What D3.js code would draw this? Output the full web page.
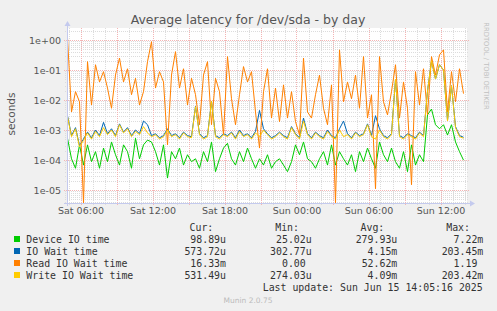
<!DOCTYPE html>
<html>
<head>
<meta charset="utf-8">
<script src="https://cdn.jsdelivr.net/npm/d3@7"></script>
<style>
  html, body { margin: 0; padding: 0; background: #F0F0F0; }
  svg { display: block; }
  text { font-family: "DejaVu Sans", sans-serif; }
  .mono { font-family: "DejaVu Sans Mono", monospace; white-space: pre; }
</style>
</head>
<body>
<svg id="chart" width="497" height="311"></svg>
<script>
// ---------- data (seconds), one sample every 20 minutes ----------
const seriesNames = ["Device IO time", "IO Wait time", "Read IO Wait time", "Write IO Wait time"];
const seriesColors = ["#00CC00", "#0066B3", "#FF8000", "#FFCC00"];
const startTime = new Date(2025, 5, 14, 4, 55, 0);
const stepMinutes = 20;

const deviceIO = [5.3e-4, 1.1e-4, 5.3e-5, 3.2e-4, 6.8e-5, 3.2e-4, 8.8e-5, 1.9e-4, 5.3e-5, 2.5e-4,
  8.8e-5, 4e-4, 1.5e-4, 6.8e-5, 3.2e-4, 1.9e-4, 5.3e-5, 5.3e-4, 1.1e-4, 3.2e-4,
  4.6e-4, 4e-4, 1.9e-4, 6.8e-5, 3.2e-4, 2.5e-5, 1.9e-4, 1.1e-4, 2.5e-4, 6.8e-5,
  1.5e-4, 8.8e-5, 1.1e-4, 5.3e-5, 1.9e-4, 8.8e-5, 4e-4, 4.1e-5, 1.1e-4, 2.5e-4,
  3.6e-4, 1.1e-4, 6.8e-5, 1.9e-4, 8.8e-5, 2.5e-4, 1.1e-4, 5.3e-5, 1.1e-4, 6.8e-5,
  1.5e-4, 5.3e-5, 8.8e-5, 1.1e-4, 6.8e-5, 4.1e-5, 8.8e-5, 3.2e-4, 1.5e-4, 4e-4,
  1.1e-4, 8.8e-5, 5.3e-5, 1.1e-4, 1.9e-4, 6.8e-5, 3.2e-4, 6.8e-5, 1.9e-4, 1.1e-4,
  6.8e-5, 1.5e-4, 4.1e-5, 1.9e-4, 8.8e-5, 2.5e-4, 1.1e-4, 5.3e-5, 4e-4, 1.5e-4,
  8.8e-5, 2.5e-4, 8.8e-5, 5.3e-5, 1.9e-4, 4.1e-5, 3.2e-4, 6.8e-5, 1.5e-4, 8.8e-5,
  3.2e-3, 5e-3, 1.5e-3, 1.1e-3, 1.5e-3, 6.8e-4, 1.5e-3, 4e-4, 1.9e-4, 9.889e-5];

const ioWait = [3e-3, 6.5e-4, 1.2e-3, 3.03e-4, 5e-4, 8.5e-4, 5.5e-4, 1e-3, 6.5e-4, 1.8e-3,
  7.5e-4, 1.1e-3, 6.5e-4, 1.6e-3, 8.5e-4, 1.2e-3, 6.5e-4, 1e-3, 7.5e-4, 2e-3,
  1.5e-3, 6.5e-4, 7.5e-4, 5.5e-4, 6.5e-4, 1.1e-3, 6.5e-4, 7.5e-4, 5.5e-4, 8.5e-4,
  6.5e-4, 6e-4, 6.2e-3, 7.5e-4, 5.5e-4, 6.5e-4, 9.2e-3, 6.5e-4, 5.5e-4, 7.5e-4,
  6.5e-4, 8.5e-4, 5.5e-4, 1e-3, 6.5e-4, 7.5e-4, 5.5e-4, 9e-4, 4.5e-3, 1.1e-3,
  7.5e-4, 5.5e-4, 6.5e-4, 8.5e-4, 6.5e-4, 5.5e-4, 1.3e-3, 7.5e-4, 5.5e-4, 2.5e-3,
  7.5e-4, 5.5e-4, 8.5e-4, 6.5e-4, 5.5e-4, 1e-3, 6.5e-4, 5.5e-4, 1.1e-3, 2e-3,
  7.5e-4, 5.5e-4, 8.5e-4, 6.5e-4, 7.5e-4, 1.6e-3, 6.5e-4, 3e-3, 1.1e-3, 6.5e-4,
  5.5e-4, 7.5e-4, 5e-2, 6.5e-4, 5.5e-4, 7.5e-4, 6.5e-4, 5.5e-4, 8.5e-4, 6.5e-4,
  2e-2, 0.20345, 5e-2, 0.15, 0.1, 2.1e-3, 3e-2, 1.3e-3, 6.5e-4, 5.737e-4];

const readIO = [1.19, 4e-3, 1.9e-2, 8.7e-3, 0, 0.19, 6.8e-3, 0.15, 4e-2, 8.8e-2,
  2.5e-2, 5.3e-3, 6.8e-2, 0.25, 4e-2, 0.11, 1.5e-2, 5.3e-2, 6.8e-3, 1.9e-2,
  0.19, 0.88, 2.5e-2, 8.8e-2, 4e-2, 3.2e-4, 6.8e-2, 0.41, 2.5e-2, 0.11,
  6.8e-3, 5.3e-2, 1.5e-2, 1.5e-3, 6.8e-2, 0.19, 1.5e-3, 5.3e-2, 1.9e-2, 6.8e-4,
  0.28, 1.1e-2, 1.5e-3, 1.5e-2, 0.13, 4e-2, 8.8e-2, 4e-3, 2.5e-4, 1.9e-2,
  0.11, 2.5e-3, 2.5e-2, 1.9e-3, 3.2e-2, 2.5e-3, 1.9e-2, 1.9e-3, 6.8e-4, 0.25,
  4e-3, 2.5e-3, 1.5e-2, 6.8e-2, 5.3e-3, 1.5e-3, 3.2e-2, 0, 0.47, 8.7e-3,
  4e-2, 1.1e-2, 6.8e-2, 5.3e-3, 0.28, 2.5e-3, 1.5e-2, 1.1e-5, 0.28, 8.7e-3,
  3.2e-3, 1.9e-2, 0.15, 2.5e-3, 4e-2, 5.3e-3, 1.5e-5, 8.8e-2, 6.8e-3, 0.11,
  3.2e-3, 0.28, 6.8e-2, 0.32, 0.47, 4e-3, 8.8e-2, 8.7e-3, 0.11, 1.633e-2];

const writeIO = [2.8e-3, 6e-4, 1.1e-3, 2.74e-4, 4.5e-4, 8e-4, 5e-4, 9e-4, 6e-4, 1.2e-3,
  7e-4, 1e-3, 6e-4, 1.5e-3, 8e-4, 1.1e-3, 6e-4, 9e-4, 7e-4, 1.3e-3,
  8e-4, 6e-4, 7e-4, 5e-4, 6e-4, 1e-3, 6e-4, 7e-4, 5e-4, 8e-4,
  6e-4, 5.5e-4, 6e-3, 7e-4, 5e-4, 6e-4, 9e-3, 6e-4, 5e-4, 7e-4,
  6e-4, 8e-4, 5e-4, 9e-4, 6e-4, 7e-4, 5e-4, 8e-4, 6e-4, 1e-3,
  7e-4, 5e-4, 6e-4, 8e-4, 6e-4, 5e-4, 1.2e-3, 7e-4, 5e-4, 2e-3,
  7e-4, 5e-4, 8e-4, 6e-4, 5e-4, 9e-4, 6e-4, 5e-4, 1e-3, 6e-4,
  7e-4, 5e-4, 8e-4, 6e-4, 7e-4, 1.5e-3, 6e-4, 5e-4, 1e-3, 6e-4,
  5e-4, 7e-4, 5e-2, 6e-4, 5e-4, 7e-4, 6e-4, 5e-4, 8e-4, 6e-4,
  2e-2, 0.20342, 5e-2, 0.15, 0.1, 2e-3, 3e-2, 1.2e-3, 6e-4, 5.3149e-4];

const legendCur = ["98.89u", "573.72u", "16.33m", "531.49u"];
const legendMin = ["25.02u", "302.77u", "0.00 ", "274.03u"];
const legendAvg = ["279.93u", "4.15m", "52.62m", "4.09m"];
const legendMax = ["7.22m", "203.45m", "1.19 ", "203.42m"];
const legendHeaders = ["Cur:", "Min:", "Avg:", "Max:"];
const yTickValues = [1, 1e-1, 1e-2, 1e-3, 1e-4, 1e-5];
const titleText = "Average latency for /dev/sda - by day";
const lastUpdate = "Last update: Sun Jun 15 14:05:16 2025";

// ---------- layout ----------
const svg = d3.select("#chart");
const L = 67, R = 467, T = 28, B = 203;
const xStart = new Date(2025, 5, 14, 4, 52, 30);
const xEnd = new Date(xStart.getTime() + 400 * 300 * 1000);
const x = d3.scaleTime().domain([xStart, xEnd]).range([L, R]);
const y = d3.scaleLog().domain([Math.pow(10, -5.433), Math.pow(10, 0.4)]).range([B, T]).clamp(true);

const times = deviceIO.map((_, i) => new Date(startTime.getTime() + i * stepMinutes * 60000));

// plot background
svg.append("rect").attr("x", L).attr("y", T).attr("width", R - L).attr("height", B - T).attr("fill", "#FFFFFF");

// grid
const grid = svg.append("g");
const minorY = y.ticks(40).filter(v => Math.abs(Math.log10(v) - Math.round(Math.log10(v))) > 1e-6);
grid.selectAll(".ym").data(minorY).join("line")
  .attr("x1", L - 2).attr("x2", R + 2)
  .attr("y1", d => Math.round(y(d)) + 0.5).attr("y2", d => Math.round(y(d)) + 0.5)
  .attr("stroke", "#DCDCDC").attr("stroke-dasharray", "1,1");
const minorX = x.ticks(d3.timeHour.every(1)).filter(d => d.getHours() % 3 !== 0);
grid.selectAll(".xm").data(minorX).join("line")
  .attr("x1", d => Math.round(x(d)) + 0.5).attr("x2", d => Math.round(x(d)) + 0.5)
  .attr("y1", T).attr("y2", B + 2)
  .attr("stroke", "#DCDCDC").attr("stroke-dasharray", "1,1");
const majorX = x.ticks(d3.timeHour.every(3));
grid.selectAll(".xM").data(majorX).join("line")
  .attr("x1", d => Math.round(x(d)) + 0.5).attr("x2", d => Math.round(x(d)) + 0.5)
  .attr("y1", T).attr("y2", B + 3)
  .attr("stroke", "#F4B4B4").attr("stroke-dasharray", "1,1");
grid.selectAll(".yM").data(yTickValues).join("line")
  .attr("x1", L - 3).attr("x2", R + 2)
  .attr("y1", d => Math.round(y(d)) + 0.5).attr("y2", d => Math.round(y(d)) + 0.5)
  .attr("stroke", "#F4B4B4").attr("stroke-dasharray", "1,1");

// axes
const fmtExp = d => {
  const e = Math.round(Math.log10(d));
  return "1e" + (e < 0 ? "-" : "+") + String(Math.abs(e)).padStart(2, "0");
};
const yAxis = svg.append("g").attr("transform", `translate(${L - 6},0)`)
  .call(d3.axisLeft(y).tickValues(yTickValues).tickFormat(fmtExp).tickSize(0).tickPadding(0));
yAxis.select(".domain").remove();
yAxis.selectAll("text").attr("font-family", "DejaVu Sans").attr("font-size", "9.5px").attr("fill", "#555");

const xAxis = svg.append("g").attr("transform", `translate(0,${B + 4})`)
  .call(d3.axisBottom(x).ticks(d3.timeHour.every(6)).tickFormat(d3.timeFormat("%a %H:%M")).tickSize(0).tickPadding(0));
xAxis.select(".domain").remove();
xAxis.selectAll("text").attr("font-family", "DejaVu Sans").attr("font-size", "9.5px").attr("fill", "#555").attr("dy", "0.71em");

// series lines
const yv = v => (v > 0 ? y(v) : B);
const line = d3.line().x((d, i) => x(times[i])).y(d => yv(d));
const allSeries = [deviceIO, ioWait, readIO, writeIO];
svg.append("g").selectAll("path").data(allSeries).join("path")
  .attr("d", d => line(d))
  .attr("fill", "none")
  .attr("stroke", (d, i) => seriesColors[i])
  .attr("stroke-width", 1);

// axis lines with arrows
const axisColor = "#C4CAEE";
svg.append("line").attr("x1", L - 3).attr("x2", R + 4).attr("y1", B + 0.5).attr("y2", B + 0.5).attr("stroke", axisColor);
svg.append("path").attr("d", `M${R + 3},${B - 2.5} L${R + 8},${B + 0.5} L${R + 3},${B + 3.5} Z`).attr("fill", axisColor);
svg.append("line").attr("x1", L + 0.5).attr("x2", L + 0.5).attr("y1", B + 3).attr("y2", T - 3).attr("stroke", axisColor);
svg.append("path").attr("d", `M${L - 2.5},${T - 2} L${L + 0.5},${T - 7} L${L + 3.5},${T - 2} Z`).attr("fill", axisColor);

// title
svg.append("text").attr("x", 248).attr("y", 24).attr("text-anchor", "middle")
  .attr("font-size", "12.5px").attr("fill", "#555").text(titleText);

// y label
svg.append("text").attr("transform", "translate(15,114) rotate(-90)").attr("text-anchor", "middle")
  .attr("font-size", "10.5px").attr("fill", "#555").text("seconds");

// rrdtool credit
svg.append("text").attr("transform", "translate(484,66) rotate(90)").attr("text-anchor", "middle")
  .attr("font-size", "6.8px").attr("fill", "#C0C0C0").text("RRDTOOL / TOBI OETIKER");

// legend
const lg = svg.append("g").attr("class", "mono").attr("font-size", "9.9px").attr("fill", "#333");
const colHeaderX = [213.3, 299, 384.3, 470];
const colValueX = [226, 311.7, 397.3, 483.3];
legendHeaders.forEach((h, i) => {
  lg.append("text").attr("class", "mono").attr("x", colHeaderX[i]).attr("y", 231).attr("text-anchor", "end").text(h);
});
const cols = [legendCur, legendMin, legendAvg, legendMax];
seriesNames.forEach((name, r) => {
  const yy = 243 + r * 12;
  lg.append("rect").attr("x", 14).attr("y", yy - 7).attr("width", 6).attr("height", 6).attr("fill", seriesColors[r]);
  lg.append("text").attr("class", "mono").attr("x", 26.3).attr("y", yy).text(name);
  cols.forEach((c, ci) => {
    lg.append("text").attr("class", "mono").attr("x", colValueX[ci]).attr("y", yy).attr("text-anchor", "end")
      .attr("xml:space", "preserve").text(c[r]);
  });
});
lg.append("text").attr("class", "mono").attr("x", 482.7).attr("y", 291).attr("text-anchor", "end").text(lastUpdate);

svg.append("text").attr("x", 248).attr("y", 303).attr("text-anchor", "middle")
  .attr("font-size", "7.5px").attr("fill", "#BBBBBB").text("Munin 2.0.75");
</script>
</body>
</html>
